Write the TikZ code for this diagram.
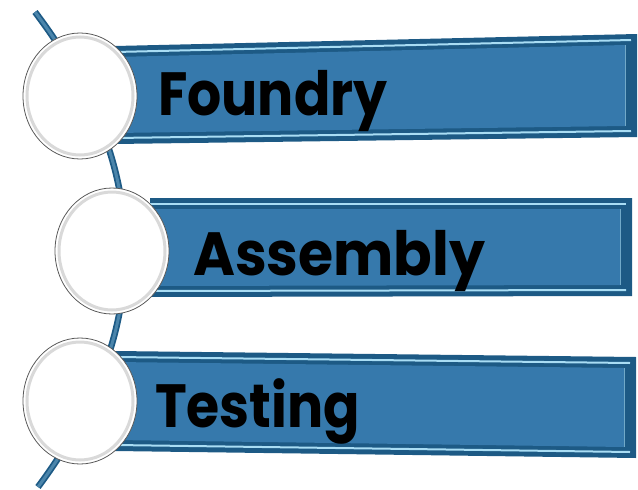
\documentclass[tikz,border=0pt]{standalone}
\usepackage{fontspec}
\setmainfont{Poppins}[BoldFont={* Bold}]
\usetikzlibrary{shapes.geometric}
\definecolor{bardark}{HTML}{1D5A85}
\definecolor{barfill}{HTML}{3679AC}
\definecolor{barlight}{HTML}{A9DDF4}
\definecolor{curveblue}{HTML}{2B6F9C}
\tikzset{
  stagedot/.style={ellipse,draw=gray!70!black,line width=0.8,fill=white,minimum width=114,minimum height=126},
  stagelabel/.style={anchor=base west,inner sep=0,xscale=0.88,font=\fontsize{61}{61}\selectfont\bfseries},
}
\newcommand{\stagebar}[6]{%
\fill[bardark] (#1,#3) -- (#2,#4) -- (#2,#5) -- (#1,#6) -- cycle;
\fill[barfill] (#1,#3+11) -- (#2-12,#4+11) -- (#2-12,#5-11) -- (#1,#6-11) -- cycle;
\draw[barlight,line width=2] (#1,#3+6) -- (#2-6,#4+6);
\draw[barlight,line width=2] (#1,#6-6) -- (#2-6,#5-6);
\draw[barlight!60!bardark,line width=1] (#2-12,#4+11) -- (#2-12,#5-11);
}
\begin{document}
\begin{tikzpicture}[x=1pt,y=-1pt]
\useasboundingbox (0,0) rectangle (638,490);
\coordinate (top) at (35,12);
\coordinate (bottom) at (38,487);
\draw[bardark,line width=6.5] (top) .. controls (155,170) and (155,330) .. (bottom);
\draw[curveblue!85!white,line width=3] (top) .. controls (155,170) and (155,330) .. (bottom);
\stagebar{115}{637}{46}{34}{137}{144}
\stagebar{150}{632}{198}{198}{296}{297}
\stagebar{115}{636}{351}{357}{458}{451}
\node[stagedot] (c1) at (80,96) {};
\node[stagedot] (c2) at (112,251) {};
\node[stagedot] (c3) at (80,401) {};
\foreach \c in {c1,c2,c3}
  \draw[gray!30,line width=3] (\c.center) ellipse (53 and 59);
\node[stagelabel] (foundry) at (158,115) {Foundry};
\node[stagelabel,xscale=1.06] (assembly) at (193,275) {Assembly};
\node[stagelabel] (testing) at (155,427) {Testing};
\end{tikzpicture}
\end{document}
